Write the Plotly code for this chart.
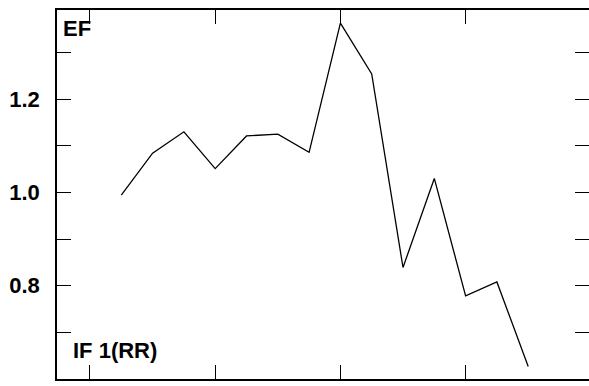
import plotly.graph_objects as go

# ---- data ----
steps = list(range(1, 15))
ef_response = [0.994, 1.084, 1.130, 1.051, 1.121, 1.125, 1.086,
               1.363, 1.254, 0.839, 1.030, 0.778, 0.808, 0.627]
y_tick_vals = [0.6, 0.7, 0.8, 0.9, 1.0, 1.1, 1.2, 1.3]
y_tick_text = ["0.6", "", "0.8", "", "1.0", "", "1.2", ""]
x_tick_vals = [0, 4, 8, 12, 16]
title_text = "Impulse response of EF to a shock in IF 1(RR)"
top_label = "EF"
bottom_label = "IF 1(RR)"

W, H = 589, 386
ML, MR, MT, MB = 57, 0, 10, 7
PW, PH = W - ML - MR, H - MT - MB

def px_x(p):
    return (p - ML) / PW

def px_y(p):
    return (H - MB - p) / PH

FONT = "Liberation Sans, Arial, Helvetica, sans-serif"
yr = [0.6, 1.391]
xr = [-1.054, 15.942]

fig = go.Figure()
fig.add_trace(go.Scatter(x=steps, y=ef_response, mode="lines",
                         line=dict(color="black", width=1.3),
                         showlegend=False, hoverinfo="skip"))
# invisible trace for right-hand mirrored ticks
fig.add_trace(go.Scatter(x=steps, y=ef_response, mode="lines", yaxis="y2",
                         line=dict(color="rgba(0,0,0,0)", width=0),
                         showlegend=False, hoverinfo="skip"))

fig.update_layout(
    width=W, height=H,
    margin=dict(l=ML, r=MR, t=MT, b=MB, pad=0),
    paper_bgcolor="white", plot_bgcolor="white",
    font=dict(family=FONT, size=22, color="black"),
    xaxis=dict(range=xr, tickvals=x_tick_vals, showticklabels=False,
               ticks="inside", ticklen=14, tickwidth=1.2, tickcolor="black",
               showline=True, linecolor="black", linewidth=1.5,
               mirror="ticks", showgrid=False, zeroline=False),
    yaxis=dict(range=yr, tickvals=y_tick_vals, ticktext=y_tick_text,
               ticks="inside", ticklen=14, tickwidth=1.2, tickcolor="black",
               showline=True, linecolor="black", linewidth=1.5,
               mirror=False, showgrid=False, zeroline=False,
               tickfont=dict(family=FONT, size=22, color="black", weight="bold"),
               ticklabelstandoff=11),
    yaxis2=dict(range=yr, tickvals=y_tick_vals, overlaying="y", side="right",
                ticks="inside", ticklen=14, tickwidth=1.2, tickcolor="black",
                showticklabels=False, showline=False, showgrid=False,
                zeroline=False),
    annotations=[
        dict(text=top_label, xref="paper", yref="paper",
             x=px_x(61), y=px_y(29), xanchor="left", yanchor="middle",
             showarrow=False,
             font=dict(family=FONT, size=22, color="black", weight="bold")),
        dict(text=bottom_label, xref="paper", yref="paper",
             x=px_x(71), y=px_y(350), xanchor="left", yanchor="middle",
             showarrow=False,
             font=dict(family=FONT, size=22, color="black", weight="bold")),
        dict(text=title_text, xref="paper", yref="paper",
             x=px_x(78), y=px_y(2), xanchor="left", yanchor="bottom",
             showarrow=False,
             font=dict(family=FONT, size=22, color="black", weight="bold")),
    ],
)

fig.write_html(
    "out.html",
    config={"displayModeBar": False},
    post_script="document.body.style.margin='0';document.body.style.padding='0';"
                "document.body.style.overflow='hidden';",
)
